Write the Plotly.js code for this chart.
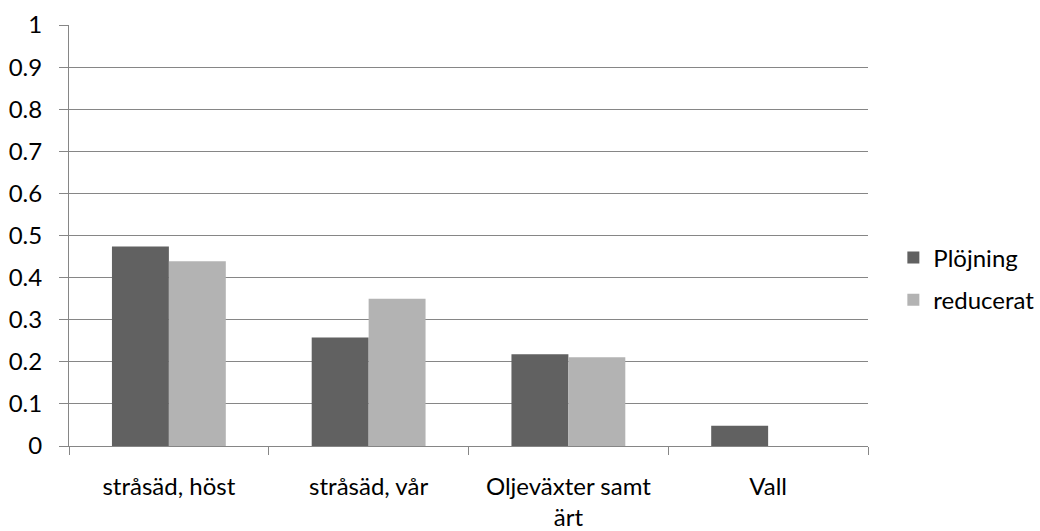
<!DOCTYPE html>
<html>
<head>
<meta charset="utf-8">
<script src="https://cdn.plot.ly/plotly-3.0.1.min.js"></script>
<style>
  html, body { margin: 0; padding: 0; background: #ffffff; }
  #chart { width: 1040px; height: 531px; }
</style>
</head>
<body>
<div id="chart"></div>
<script>
// Categories and series values
let categories = ['stråsäd, höst', 'stråsäd, vår', 'Oljeväxter samt<br>ärt', 'Vall'];
let plojning = [0.474, 0.258, 0.218, 0.048];
let reducerat = [0.439, 0.350, 0.211, 0];
let yTicks = [0, 0.1, 0.2, 0.3, 0.4, 0.5, 0.6, 0.7, 0.8, 0.9, 1];
let yTickLabels = ['0', '0.1', '0.2', '0.3', '0.4', '0.5', '0.6', '0.7', '0.8', '0.9', '1'];

const fontFam = 'Lato, "Open Sans", sans-serif';
const fontSize = 24;
const axisGray = '#868686';

let data = [{
    type: 'bar',
    name: 'Plöjning',
    x: categories,
    y: plojning,
    legendgroup: 'a',
    marker: { color: '#616161' },
    hoverinfo: 'none',
}, {
    type: 'bar',
    name: 'reducerat',
    x: categories,
    y: reducerat,
    legendgroup: 'b',
    marker: { color: '#b3b3b3' },
    hoverinfo: 'none',
}];

let layout = {
    width: 1040,
    height: 531,
    margin: { l: 69, r: 172, t: 25, b: 85, pad: 0, autoexpand: false },
    paper_bgcolor: '#ffffff',
    plot_bgcolor: '#ffffff',
    barmode: 'group',
    bargap: 0.43,
    bargroupgap: 0,
    font: { family: fontFam, size: fontSize, color: '#000000' },
    xaxis: {
        type: 'category',
        showline: true,
        linecolor: axisGray,
        linewidth: 1,
        ticks: 'outside',
        tickson: 'boundaries',
        ticklen: 8,
        tickcolor: axisGray,
        showgrid: false,
        tickfont: { family: fontFam, size: fontSize, color: '#000000' },
        ticklabelstandoff: 19,
    },
    yaxis: {
        range: [0, 1],
        tickvals: yTicks,
        ticktext: yTickLabels,
        showline: true,
        linecolor: axisGray,
        linewidth: 1,
        ticks: 'outside',
        ticklen: 9,
        tickcolor: axisGray,
        showgrid: true,
        gridcolor: axisGray,
        gridwidth: 1,
        zeroline: false,
        tickfont: { family: fontFam, size: fontSize, color: '#000000' },
        ticklabelstandoff: 12,
    },
    showlegend: true,
    legend: {
        xref: 'container',
        x: 0.859,
        xanchor: 'left',
        y: 0.397,
        yanchor: 'middle',
        traceorder: 'grouped',
        tracegroupgap: 8,
        font: { family: fontFam, size: fontSize, color: '#000000' },
        itemwidth: 30,
        bgcolor: 'rgba(0,0,0,0)',
    },
};

let config = { staticPlot: true, displayModeBar: false };

Plotly.newPlot('chart', data, layout, config);
</script>
</body>
</html>
